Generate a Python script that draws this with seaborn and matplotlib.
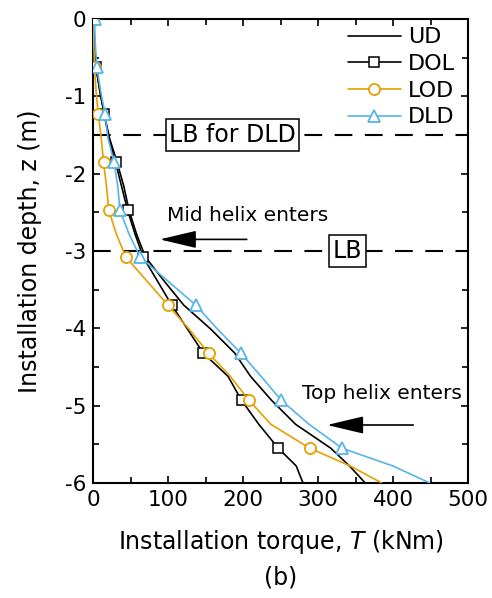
import numpy as np
import pandas as pd
import matplotlib
matplotlib.use("Agg")
import matplotlib.pyplot as plt
import seaborn as sns

# ---- data ----
depth = [0, -0.31, -0.62, -0.92, -1.23, -1.54, -1.85, -2.16, -2.47, -2.78, -3.08,
         -3.39, -3.70, -4.01, -4.32, -4.62, -4.93, -5.24, -5.55, -5.78, -6.0]
torque_UD = [1, 2, 4, 9, 15, 22, 32, 41, 48, 58, 70, 95, 121, 157, 189, 210, 238, 270, 317, 342, 363]
torque_DOL = [1, 2, 4, 9, 15, 21, 30, 38, 46, 56, 67, 86, 105, 126, 147, 180, 198, 221, 247, 271, 280]
torque_LOD = [0, 1, 2, 4, 7, 11, 14, 18, 21, 31, 44, 72, 100, 128, 154, 183, 208, 237, 289, 343, 385]
torque_DLD = [2, 3, 5, 10, 16, 20, 28, 33, 36, 48, 63, 100, 137, 166, 197, 224, 251, 288, 332, 400, 449]

series_names = ["UD", "DOL", "LOD", "DLD"]
x_ticks = [0, 100, 200, 300, 400, 500]
y_ticks = [0, -1, -2, -3, -4, -5, -6]
lb_depths = [-1.5, -3.0]
lb_labels = ["LB for DLD", "LB"]
lb_label_x = [186, 339]

sns.set_theme(style="ticks")
plt.rcParams["font.family"] = ["DejaVu Sans"]
plt.rcParams["axes.unicode_minus"] = False
plt.rcParams["mathtext.fontset"] = "dejavusans"
for k in ["text.color", "axes.labelcolor", "xtick.color", "ytick.color", "axes.edgecolor"]:
    plt.rcParams[k] = "black"

fig = plt.figure(figsize=(4.92, 5.98), dpi=100)
ax = fig.add_axes([93 / 492, 1 - 483 / 598, 375 / 492, 464 / 598])

orange = "#E69F00"
blue = "#56B4E9"
mk = slice(0, 19, 2)
lw = 1.2

df = pd.DataFrame({"z": depth, "UD": torque_UD, "DOL": torque_DOL,
                   "LOD": torque_LOD, "DLD": torque_DLD})

# dashed LB lines (drawn first)
for d in lb_depths:
    ax.axhline(d, color="black", lw=1.5, dashes=(8.5, 6), zorder=1)
for d, lab, xx in zip(lb_depths, lb_labels, lb_label_x):
    ax.text(xx, d, lab, ha="center", va="center", fontsize=17, zorder=3,
            bbox=dict(boxstyle="square,pad=0.15", fc="white", ec="black", lw=1.1))

sns.lineplot(data=df, x="UD", y="z", sort=False, estimator=None, color="black",
             lw=lw, label="UD", ax=ax, zorder=4)
sns.lineplot(data=df, x="DOL", y="z", sort=False, estimator=None, color="black",
             lw=lw, label="DOL", marker="s", markevery=mk, ms=6.5, mfc="white",
             mec="black", mew=1.1, ax=ax, zorder=4)
sns.lineplot(data=df, x="LOD", y="z", sort=False, estimator=None, color=orange,
             lw=lw, label="LOD", marker="o", markevery=mk, ms=8, mfc="white",
             mec=orange, mew=1.3, ax=ax, zorder=4)
sns.lineplot(data=df, x="DLD", y="z", sort=False, estimator=None, color=blue,
             lw=lw, label="DLD", marker="^", markevery=mk, ms=9, mfc="white",
             mec=blue, mew=1.3, ax=ax, zorder=4)

# annotations
ax.text(99, -2.54, "Mid helix enters", fontsize=14.5, ha="left", va="center")
ax.annotate("", xy=(89, -2.85), xytext=(205, -2.85),
            arrowprops=dict(arrowstyle="-|>,head_length=1.9,head_width=0.45",
                            color="black", lw=1.2, shrinkA=0, shrinkB=0))
ax.text(278, -4.84, "Top helix enters", fontsize=14.5, ha="left", va="center")
ax.annotate("", xy=(312, -5.25), xytext=(427, -5.25),
            arrowprops=dict(arrowstyle="-|>,head_length=1.9,head_width=0.45",
                            color="black", lw=1.2, shrinkA=0, shrinkB=0))

ax.set_xlim(0, 500)
ax.set_ylim(-6, 0)
ax.set_xticks(x_ticks)
ax.set_yticks(y_ticks)
ax.set_xticks(np.arange(0, 501, 50), minor=True)
ax.set_yticks(np.arange(-6, 0.01, 0.5), minor=True)
ax.tick_params(which="both", direction="in", top=True, right=True, width=1.2,
               labelsize=15.5, pad=5, color="black", labelcolor="black")
ax.tick_params(which="major", length=5)
ax.tick_params(which="minor", length=4)
for s in ax.spines.values():
    s.set_linewidth(1.5)
    s.set_color("black")

ax.set_xlabel("Installation torque, $T$ (kNm)", fontsize=17, labelpad=13)
ax.set_ylabel("Installation depth, z (m)", fontsize=17, labelpad=16)
fig.text(280.5 / 492, 1 - 578 / 598, "(b)", fontsize=17, ha="center", va="center")

leg = ax.legend(loc="upper right", bbox_to_anchor=(1.0, 1.0 + 5 / 464),
                frameon=False, fontsize=16, handlelength=2.4,
                handletextpad=0.3, labelspacing=0.3, borderaxespad=0.5,
                borderpad=0.1)

fig.savefig("out.png", dpi=100)
